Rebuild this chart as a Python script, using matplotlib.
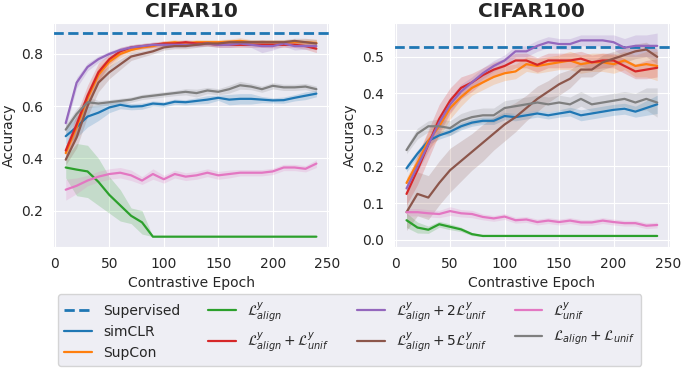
import numpy as np
import matplotlib
matplotlib.use('Agg')
import matplotlib.pyplot as plt
import seaborn as sns

sns.set_style('darkgrid')

epochs = np.arange(10, 250, 10)

labels = ['simCLR', 'SupCon', r'$\mathcal{L}^y_{align}$',
          r'$\mathcal{L}^y_{align} + \mathcal{L}^y_{unif}$',
          r'$\mathcal{L}^y_{align} + 2\mathcal{L}^y_{unif}$',
          r'$\mathcal{L}^y_{align} + 5\mathcal{L}^y_{unif}$',
          r'$\mathcal{L}^y_{unif}$',
          r'$\mathcal{L}_{align} + \mathcal{L}_{unif}$']
colors = ['tab:blue', 'tab:orange', 'tab:green', 'tab:red', 'tab:purple', 'tab:brown', 'tab:pink', 'tab:gray']

# CIFAR10 mean accuracies
c10_supervised = 0.88
c10_mean = [
    [0.485, 0.52, 0.56, 0.575, 0.595, 0.605, 0.598, 0.60, 0.61, 0.607, 0.617, 0.615, 0.62, 0.625, 0.632, 0.625, 0.628, 0.628, 0.625, 0.622, 0.623, 0.632, 0.64, 0.648],
    [0.42, 0.52, 0.63, 0.72, 0.77, 0.80, 0.815, 0.825, 0.83, 0.84, 0.845, 0.84, 0.845, 0.845, 0.845, 0.847, 0.85, 0.845, 0.845, 0.845, 0.845, 0.845, 0.845, 0.842],
    [0.365, 0.357, 0.35, 0.31, 0.26, 0.22, 0.18, 0.155, 0.10, 0.10, 0.10, 0.10, 0.10, 0.10, 0.10, 0.10, 0.10, 0.10, 0.10, 0.10, 0.10, 0.10, 0.10, 0.10],
    [0.43, 0.53, 0.64, 0.73, 0.78, 0.81, 0.825, 0.83, 0.835, 0.84, 0.84, 0.845, 0.84, 0.84, 0.835, 0.835, 0.835, 0.835, 0.835, 0.835, 0.835, 0.835, 0.83, 0.82],
    [0.535, 0.69, 0.75, 0.78, 0.80, 0.815, 0.825, 0.83, 0.835, 0.835, 0.835, 0.835, 0.835, 0.84, 0.835, 0.835, 0.84, 0.835, 0.83, 0.83, 0.84, 0.83, 0.83, 0.83],
    [0.395, 0.48, 0.60, 0.69, 0.73, 0.76, 0.79, 0.80, 0.81, 0.825, 0.83, 0.83, 0.835, 0.84, 0.84, 0.845, 0.845, 0.845, 0.845, 0.845, 0.845, 0.85, 0.845, 0.84],
    [0.28, 0.295, 0.315, 0.33, 0.34, 0.345, 0.335, 0.315, 0.34, 0.32, 0.34, 0.33, 0.335, 0.345, 0.335, 0.34, 0.345, 0.345, 0.345, 0.35, 0.365, 0.365, 0.36, 0.38],
    [0.51, 0.57, 0.615, 0.61, 0.615, 0.62, 0.625, 0.635, 0.64, 0.645, 0.65, 0.655, 0.65, 0.66, 0.655, 0.665, 0.68, 0.675, 0.665, 0.678, 0.672, 0.672, 0.675, 0.665],
]
c10_std = [
    [0.03, 0.04, 0.04, 0.03, 0.02, 0.015, 0.012, 0.012, 0.01, 0.01, 0.01, 0.01, 0.012, 0.015, 0.01, 0.02, 0.02, 0.02, 0.012, 0.01, 0.012, 0.012, 0.015, 0.012],
    [0.02, 0.03, 0.03, 0.03, 0.02, 0.015, 0.01, 0.01, 0.01, 0.01, 0.01, 0.01, 0.01, 0.01, 0.01, 0.01, 0.012, 0.01, 0.01, 0.01, 0.01, 0.01, 0.012, 0.015],
    [0.04, 0.1, 0.1, 0.09, 0.07, 0.06, 0.03, 0.045, 0.0, 0.0, 0.0, 0.0, 0.0, 0.0, 0.0, 0.0, 0.0, 0.0, 0.0, 0.0, 0.0, 0.0, 0.0, 0.0],
    [0.02, 0.04, 0.04, 0.035, 0.02, 0.015, 0.01, 0.01, 0.01, 0.01, 0.01, 0.01, 0.01, 0.01, 0.01, 0.01, 0.01, 0.01, 0.01, 0.012, 0.01, 0.01, 0.012, 0.015],
    [0.02, 0.02, 0.015, 0.012, 0.01, 0.01, 0.01, 0.01, 0.01, 0.008, 0.008, 0.008, 0.008, 0.008, 0.01, 0.01, 0.01, 0.01, 0.025, 0.015, 0.01, 0.015, 0.012, 0.012],
    [0.02, 0.04, 0.04, 0.035, 0.025, 0.02, 0.015, 0.012, 0.01, 0.01, 0.01, 0.01, 0.01, 0.01, 0.01, 0.01, 0.01, 0.01, 0.01, 0.01, 0.01, 0.01, 0.015, 0.015],
    [0.04, 0.03, 0.02, 0.02, 0.02, 0.02, 0.02, 0.015, 0.02, 0.015, 0.015, 0.015, 0.015, 0.015, 0.015, 0.015, 0.012, 0.012, 0.012, 0.012, 0.012, 0.012, 0.012, 0.015],
    [0.02, 0.02, 0.02, 0.012, 0.01, 0.01, 0.01, 0.01, 0.01, 0.01, 0.01, 0.012, 0.015, 0.012, 0.012, 0.015, 0.015, 0.012, 0.012, 0.012, 0.012, 0.012, 0.012, 0.012],
]

# CIFAR100 mean accuracies
c100_supervised = 0.527
c100_mean = [
    [0.195, 0.235, 0.27, 0.285, 0.295, 0.31, 0.32, 0.325, 0.325, 0.338, 0.335, 0.34, 0.345, 0.34, 0.345, 0.35, 0.34, 0.345, 0.35, 0.355, 0.358, 0.35, 0.36, 0.37],
    [0.155, 0.21, 0.27, 0.31, 0.36, 0.39, 0.415, 0.43, 0.445, 0.455, 0.46, 0.48, 0.475, 0.48, 0.485, 0.49, 0.48, 0.485, 0.485, 0.48, 0.49, 0.475, 0.48, 0.475],
    [0.053, 0.033, 0.027, 0.042, 0.035, 0.028, 0.015, 0.01, 0.01, 0.01, 0.01, 0.01, 0.01, 0.01, 0.01, 0.01, 0.01, 0.01, 0.01, 0.01, 0.01, 0.01, 0.01, 0.01],
    [0.125, 0.19, 0.26, 0.33, 0.38, 0.415, 0.43, 0.45, 0.465, 0.475, 0.49, 0.49, 0.478, 0.49, 0.49, 0.49, 0.495, 0.485, 0.49, 0.49, 0.475, 0.46, 0.465, 0.47],
    [0.14, 0.2, 0.26, 0.32, 0.37, 0.405, 0.43, 0.455, 0.475, 0.49, 0.515, 0.515, 0.53, 0.54, 0.535, 0.535, 0.545, 0.545, 0.545, 0.54, 0.525, 0.53, 0.53, 0.53],
    [0.075, 0.125, 0.115, 0.155, 0.19, 0.215, 0.24, 0.265, 0.29, 0.315, 0.335, 0.36, 0.385, 0.405, 0.425, 0.44, 0.465, 0.465, 0.485, 0.495, 0.505, 0.515, 0.52, 0.5],
    [0.075, 0.075, 0.072, 0.07, 0.078, 0.072, 0.07, 0.062, 0.058, 0.063, 0.053, 0.055, 0.048, 0.052, 0.048, 0.052, 0.047, 0.047, 0.052, 0.048, 0.045, 0.045, 0.038, 0.04],
    [0.245, 0.29, 0.31, 0.31, 0.305, 0.325, 0.335, 0.34, 0.34, 0.36, 0.365, 0.37, 0.375, 0.37, 0.375, 0.37, 0.385, 0.37, 0.375, 0.38, 0.385, 0.375, 0.385, 0.375],
]
c100_std = [
    [0.01, 0.01, 0.01, 0.01, 0.01, 0.01, 0.01, 0.01, 0.01, 0.01, 0.01, 0.01, 0.01, 0.01, 0.01, 0.012, 0.015, 0.015, 0.015, 0.015, 0.015, 0.015, 0.02, 0.025],
    [0.015, 0.02, 0.025, 0.03, 0.03, 0.025, 0.02, 0.02, 0.02, 0.02, 0.02, 0.02, 0.02, 0.02, 0.02, 0.025, 0.025, 0.025, 0.025, 0.025, 0.025, 0.03, 0.035, 0.04],
    [0.02, 0.015, 0.01, 0.008, 0.008, 0.006, 0.004, 0.002, 0.0, 0.0, 0.0, 0.0, 0.0, 0.0, 0.0, 0.0, 0.0, 0.0, 0.0, 0.0, 0.0, 0.0, 0.0, 0.0],
    [0.03, 0.04, 0.04, 0.04, 0.035, 0.03, 0.025, 0.02, 0.02, 0.02, 0.02, 0.02, 0.02, 0.02, 0.02, 0.02, 0.02, 0.02, 0.02, 0.02, 0.02, 0.02, 0.025, 0.025],
    [0.01, 0.015, 0.02, 0.02, 0.02, 0.02, 0.015, 0.015, 0.015, 0.015, 0.015, 0.015, 0.015, 0.015, 0.015, 0.015, 0.015, 0.015, 0.015, 0.02, 0.025, 0.03, 0.03, 0.035],
    [0.05, 0.06, 0.06, 0.06, 0.06, 0.055, 0.05, 0.05, 0.045, 0.045, 0.04, 0.035, 0.035, 0.03, 0.03, 0.025, 0.02, 0.02, 0.02, 0.02, 0.02, 0.02, 0.02, 0.02],
    [0.01, 0.01, 0.01, 0.01, 0.012, 0.01, 0.01, 0.008, 0.008, 0.008, 0.008, 0.008, 0.008, 0.008, 0.008, 0.008, 0.008, 0.008, 0.008, 0.008, 0.008, 0.008, 0.008, 0.008],
    [0.01, 0.015, 0.015, 0.02, 0.02, 0.02, 0.02, 0.02, 0.02, 0.02, 0.02, 0.02, 0.02, 0.02, 0.02, 0.02, 0.02, 0.02, 0.02, 0.02, 0.02, 0.025, 0.03, 0.04],
]

fig, axs = plt.subplots(1, 2, figsize=(6.82, 3.69), dpi=100)
fig.subplots_adjust(left=0.078, right=0.982, top=0.938, bottom=0.331, wspace=0.236)

datasets = [('CIFAR10', c10_supervised, c10_mean, c10_std),
            ('CIFAR100', c100_supervised, c100_mean, c100_std)]

for ax, (title, sup, means, stds) in zip(axs, datasets):
    ax.axhline(sup, color='tab:blue', ls='--', lw=2, label='Supervised')
    for m, s, lab, col in zip(means, stds, labels, colors):
        m = np.array(m)
        s = np.array(s)
        ax.plot(epochs, m, color=col, lw=1.6, label=lab)
        ax.fill_between(epochs, m - s, m + s, color=col, alpha=0.2, lw=0)
    ax.set_title(title, fontsize=14.5, fontweight='bold', pad=4)
    ax.set_xlabel('Contrastive Epoch', fontsize=10)
    ax.set_ylabel('Accuracy', fontsize=10)
    ax.set_xticks([0, 50, 100, 150, 200, 250])
    ax.tick_params(labelsize=10)

handles, labs = axs[0].get_legend_handles_labels()
fig.legend(handles, labs, loc='lower center', bbox_to_anchor=(0.513, -0.01), ncol=4, fontsize=10)

fig.savefig('out.png', dpi=100)
